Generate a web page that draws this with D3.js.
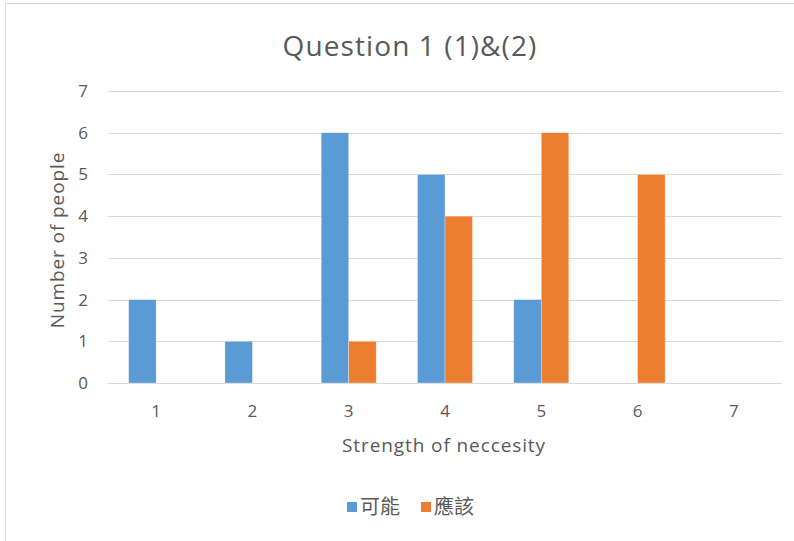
<!DOCTYPE html>
<html>
<head>
<meta charset="utf-8">
<script src="https://cdn.jsdelivr.net/npm/d3@7"></script>
<style>
  html, body { margin: 0; padding: 0; background: #fff; }
  svg { display: block; }
</style>
</head>
<body>
<svg id="chart" width="794" height="541"></svg>
<script>
// Survey answers: how many people picked each strength level
const categories = ["1", "2", "3", "4", "5", "6", "7"];
const seriesNames = ["可能", "應該"];
const seriesKeneng = [2, 1, 6, 5, 2, 0, 0];
const seriesYinggai = [0, 0, 1, 4, 6, 5, 0];
const yTicks = [0, 1, 2, 3, 4, 5, 6, 7];
const colors = ["#5B9BD5", "#ED7D31"];

const seriesValues = [seriesKeneng, seriesYinggai];
const rows = categories.map((c, i) => ({
  cat: c,
  values: seriesValues.map((vals, s) => ({ s, v: vals[i] }))
}));

const svg = d3.select("#chart");
const W = 794, H = 541;
const plot = { left: 108, right: 782, top: 91, bottom: 383 };
const textColor = "#595959";
const font = "'Open Sans', 'DejaVu Sans', sans-serif";

// Outer chart frame (top and left edges visible)
svg.append("rect").attr("x", 5.5).attr("y", 3.5)
  .attr("width", W + 10).attr("height", H + 10)
  .attr("fill", "#fff").attr("stroke", "#d9d9d9").attr("stroke-width", 1);

const x = d3.scaleBand().domain(categories).range([plot.left, plot.right]).paddingInner(0).paddingOuter(0);
const groupPad = x.bandwidth() * (1.5 / 3.5) / 2;
const xs = d3.scaleBand().domain(d3.range(seriesNames.length))
  .range([groupPad, x.bandwidth() - groupPad]).padding(0);
const y = d3.scaleLinear().domain([0, 7]).range([plot.bottom, plot.top]);

// Horizontal gridlines
svg.append("g").selectAll("line").data(yTicks).join("line")
  .attr("x1", plot.left).attr("x2", plot.right)
  .attr("y1", d => Math.round(y(d)) + 0.5).attr("y2", d => Math.round(y(d)) + 0.5)
  .attr("stroke", "#d9d9d9").attr("stroke-width", 1.2);

// Bars
const groups = svg.append("g").selectAll("g").data(rows).join("g")
  .attr("transform", d => `translate(${x(d.cat)},0)`);
groups.selectAll("rect").data(d => d.values.filter(e => e.v > 0)).join("rect")
  .attr("x", e => xs(e.s))
  .attr("width", xs.bandwidth())
  .attr("y", e => y(e.v))
  .attr("height", e => y(0) - y(e.v))
  .attr("fill", e => colors[e.s])
  .attr("stroke", "#fff").attr("stroke-opacity", 0.5).attr("stroke-width", 0.6);

// Y axis tick labels
const yAxis = d3.axisLeft(y).tickValues(yTicks).tickSize(0).tickPadding(0).tickFormat(d3.format("d"));
const gy = svg.append("g").attr("transform", `translate(${plot.left - 20},0)`).call(yAxis);
gy.select(".domain").remove();
gy.selectAll("text").attr("fill", textColor).attr("font-family", font).attr("font-size", 17);

// X axis tick labels
const xAxis = d3.axisBottom(x).tickSize(0).tickPadding(0);
const gx = svg.append("g").attr("transform", `translate(0,${plot.bottom + 22})`).call(xAxis);
gx.select(".domain").remove();
gx.selectAll("text").attr("fill", textColor).attr("font-family", font).attr("font-size", 17);

// Title
svg.append("text").attr("x", 410).attr("y", 56).attr("text-anchor", "middle")
  .attr("fill", textColor).attr("font-family", font)
  .attr("font-size", 28).attr("letter-spacing", 1.1).text("Question 1 (1)&(2)");

// Axis titles
svg.append("text").attr("x", 444).attr("y", 452).attr("text-anchor", "middle")
  .attr("fill", textColor).attr("font-family", font).attr("font-size", 19)
  .attr("letter-spacing", 0.9)
  .text("Strength  of neccesity");
svg.append("text").attr("transform", "translate(64,240) rotate(-90)").attr("text-anchor", "middle")
  .attr("fill", textColor).attr("font-family", font).attr("font-size", 19)
  .attr("letter-spacing", 0.9)
  .text("Number  of people");

// Legend
const legendItems = [{ name: seriesNames[0], x: 347 }, { name: seriesNames[1], x: 421 }];
const lg = svg.append("g").selectAll("g").data(legendItems).join("g")
  .attr("transform", d => `translate(${d.x},0)`);
lg.append("rect").attr("x", 0).attr("y", 502).attr("width", 10).attr("height", 10)
  .attr("fill", (d, i) => colors[i]);
lg.append("text").attr("x", 13).attr("y", 514)
  .attr("fill", textColor).attr("font-family", "'Noto Sans CJK TC', sans-serif")
  .attr("font-size", 20).text(d => d.name);
</script>
</body>
</html>
